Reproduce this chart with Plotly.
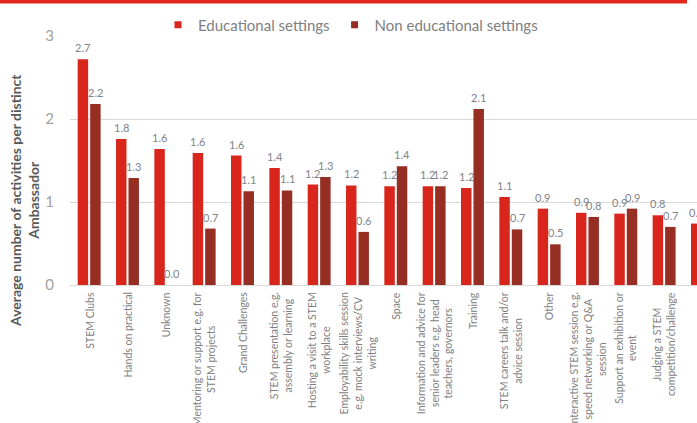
import plotly.graph_objects as go

# ---- data -------------------------------------------------------------
categories = [
    "STEM Clubs",
    "Hands on practical",
    "Unknown",
    "Mentoring or support e.g. for<br>STEM projects",
    "Grand Challenges",
    "STEM presentation e.g.<br>assembly or learning",
    "Hosting a visit to a STEM<br>workplace",
    "Employability skills session<br>e.g. mock interviews/CV<br>writing",
    "Space",
    "Information and advice for<br>senior leaders e.g. head<br>teachers, governors",
    "Training",
    "STEM careers talk and/or<br>advice session",
    "Other",
    "Interactive STEM session e.g.<br>speed networking or Q&A<br>session",
    "Support an exhibition or<br>event",
    "Judging a STEM<br>competition/challenge",
    "Professional development of",
]

educational = [2.72, 1.76, 1.64, 1.59, 1.56, 1.41, 1.21, 1.20, 1.19, 1.19,
               1.17, 1.06, 0.92, 0.87, 0.86, 0.84, 0.74]
non_educational = [2.18, 1.29, 0.0, 0.68, 1.13, 1.14, 1.30, 0.64, 1.43, 1.19,
                   2.12, 0.67, 0.49, 0.82, 0.92, 0.70, None]

series_names = ["Educational settings", "Non educational settings"]
y_ticks = [0, 1, 2, 3]
y_title = "Average number of activities per distinct<br>Ambassador"

# ---- style ------------------------------------------------------------
W, H = 697, 423
M_L, M_R, M_T, M_B = 70, 0, 36, 138
CAT_PX = 38.33           # width of one category slot in pixels
BARGAP = 0.35
BARGROUPGAP = 0.16
RED = "#d9261c"
DARK = "#962e23"
BAND = "#e1261c"
FONT = "Lato"
GREY_TXT = "#7f7f7f"

plot_w = W - M_L - M_R
plot_h = H - M_T - M_B


def px_x(px):
    return (px - M_L) / plot_w


def px_y(py):
    return (H - M_B - py) / plot_h


x_idx = list(range(len(categories)))
x_end = -0.5 + plot_w / CAT_PX

fig = go.Figure()
colors = [RED, DARK]
for name, vals, col in zip(series_names, [educational, non_educational], colors):
    fig.add_trace(go.Bar(
        x=x_idx, y=vals, name=name, marker_color=col,
        marker_line_width=0, showlegend=False,
    ))
    # legend swatch
    fig.add_trace(go.Scatter(
        x=[None], y=[None], mode="markers", name=name,
        marker=dict(symbol="square", size=7, color=col),
    ))

# value labels above each bar
annotations = []
for s, vals in enumerate([educational, non_educational]):
    off = (s - 0.5) * (1 - BARGAP) / 2
    for i, v in enumerate(vals):
        if v is None:
            continue
        annotations.append(dict(
            x=i + off, y=v, xref="x", yref="y", text=f"{v:.1f}",
            showarrow=False, yanchor="bottom", yshift=3,
            font=dict(family=FONT, size=11, color="#80838a"),
        ))

# category labels under the axis
for i, c in enumerate(categories):
    annotations.append(dict(
        x=i, y=0, xref="x", yref="paper", text=c, showarrow=False,
        textangle=-90, yanchor="top", xanchor="center", yshift=-5,
        align="center", font=dict(family=FONT, size=10.5, color=GREY_TXT),
    ))

# y-axis title
annotations.append(dict(
    x=px_x(24), y=px_y(201), xref="paper", yref="paper", text=y_title,
    showarrow=False, textangle=-90, xanchor="center", yanchor="middle",
    align="center", font=dict(family=FONT, size=14, color="#595959",
                              weight="bold"),
))

fig.update_layout(
    width=W, height=H,
    margin=dict(l=M_L, r=M_R, t=M_T, b=M_B, pad=0),
    paper_bgcolor="white", plot_bgcolor="white",
    barmode="group", bargap=BARGAP, bargroupgap=BARGROUPGAP,
    font=dict(family=FONT, color=GREY_TXT),
    legend=dict(
        orientation="h", x=px_x(158), xanchor="left",
        y=px_y(25), yanchor="middle",
        font=dict(family=FONT, size=15, color=GREY_TXT),
        bgcolor="rgba(0,0,0,0)", itemclick=False,
    ),
    xaxis=dict(
        type="linear", range=[-0.5, x_end], showticklabels=False,
        showgrid=False, zeroline=False, showline=False, ticks="",
    ),
    yaxis=dict(
        range=[0, 3], tickvals=y_ticks, showgrid=True, gridcolor="#d9d9d9",
        gridwidth=1, zeroline=True, zerolinecolor="#d9d9d9", zerolinewidth=1,
        showline=False, ticks="outside", ticklen=12,
        tickcolor="rgba(0,0,0,0)",
        tickfont=dict(family=FONT, size=15, color="#a0a0a0"),
    ),
    annotations=annotations,
    shapes=[dict(
        type="rect", xref="paper", yref="paper",
        x0=px_x(0), x1=px_x(687), y0=px_y(0), y1=px_y(3.5),
        fillcolor=BAND, line_width=0, layer="above",
    )],
)

fig.write_html("out.html")
